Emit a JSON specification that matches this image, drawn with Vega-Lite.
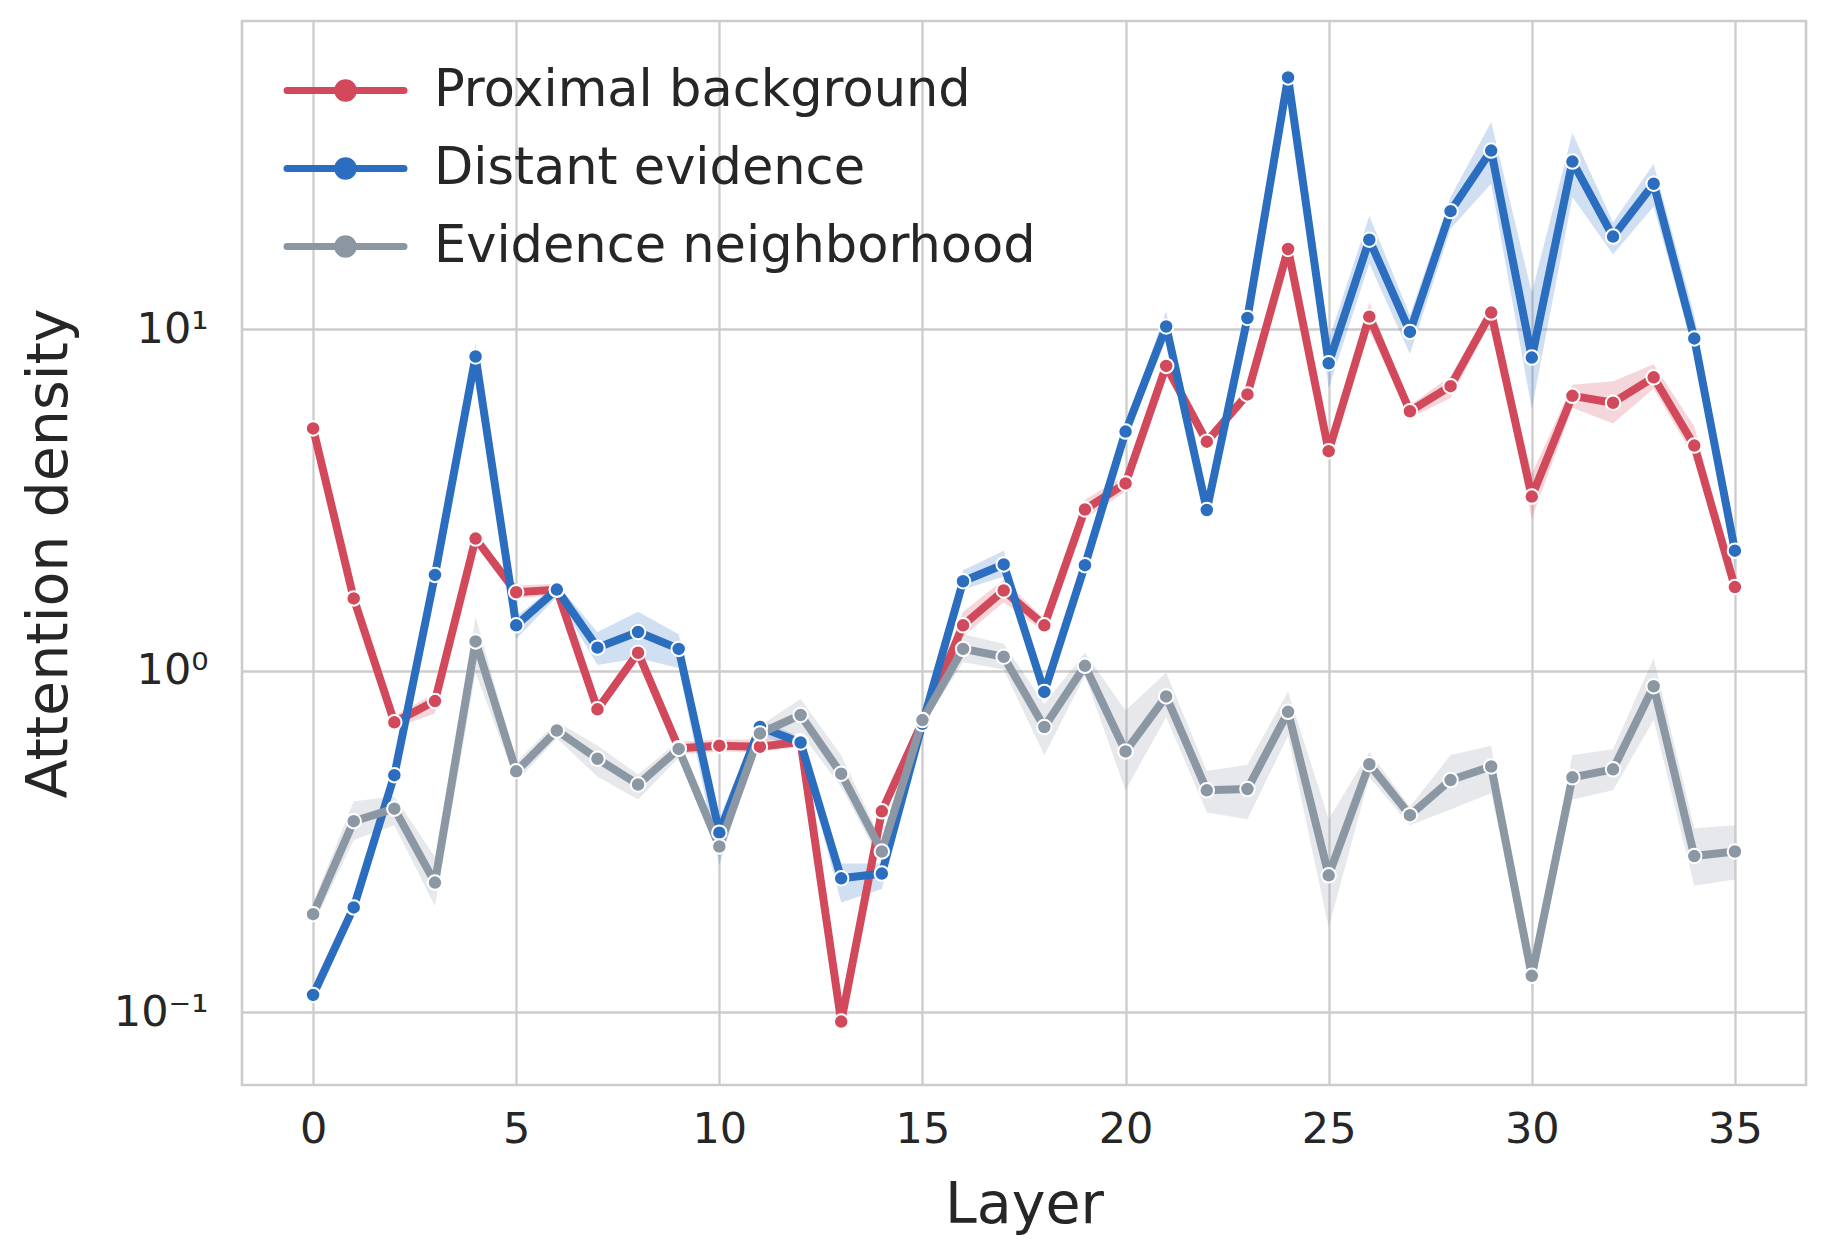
{
  "$schema": "https://vega.github.io/schema/vega-lite/v6.json",
  "width": 1564,
  "height": 1064,
  "autosize": {"type": "none"},
  "padding": {"left": 242, "top": 21, "right": 24, "bottom": 173},
  "background": "white",
  "config": {
    "font": "DejaVu Sans",
    "view": {"stroke": "#cccccc", "strokeWidth": 2.6},
    "axis": {
      "grid": true, "gridColor": "#cccccc", "gridWidth": 2.3, "gridOpacity": 1,
      "domain": false, "ticks": false, "tickSize": 0,
      "labelColor": "#262626", "titleColor": "#262626",
      "labelFont": "DejaVu Sans", "titleFont": "DejaVu Sans", "titleFontWeight": "normal"
    },
    "legend": {"labelFont": "DejaVu Sans"}
  },
  "data": {"values": [
    {"layer":0,"series":"Proximal background","mean":5.13,"lo":5.0,"hi":5.25},
    {"layer":1,"series":"Proximal background","mean":1.63,"lo":1.58,"hi":1.68},
    {"layer":2,"series":"Proximal background","mean":0.707,"lo":0.68,"hi":0.74},
    {"layer":3,"series":"Proximal background","mean":0.816,"lo":0.75,"hi":0.86},
    {"layer":4,"series":"Proximal background","mean":2.44,"lo":2.35,"hi":2.55},
    {"layer":5,"series":"Proximal background","mean":1.70,"lo":1.63,"hi":1.78},
    {"layer":6,"series":"Proximal background","mean":1.73,"lo":1.67,"hi":1.80},
    {"layer":7,"series":"Proximal background","mean":0.772,"lo":0.74,"hi":0.80},
    {"layer":8,"series":"Proximal background","mean":1.13,"lo":1.09,"hi":1.18},
    {"layer":9,"series":"Proximal background","mean":0.594,"lo":0.57,"hi":0.62},
    {"layer":10,"series":"Proximal background","mean":0.604,"lo":0.58,"hi":0.63},
    {"layer":11,"series":"Proximal background","mean":0.60,"lo":0.58,"hi":0.63},
    {"layer":12,"series":"Proximal background","mean":0.62,"lo":0.60,"hi":0.64},
    {"layer":13,"series":"Proximal background","mean":0.094,"lo":0.088,"hi":0.100},
    {"layer":14,"series":"Proximal background","mean":0.388,"lo":0.37,"hi":0.40},
    {"layer":15,"series":"Proximal background","mean":0.71,"lo":0.69,"hi":0.73},
    {"layer":16,"series":"Proximal background","mean":1.36,"lo":1.26,"hi":1.49},
    {"layer":17,"series":"Proximal background","mean":1.72,"lo":1.59,"hi":1.85},
    {"layer":18,"series":"Proximal background","mean":1.36,"lo":1.30,"hi":1.42},
    {"layer":19,"series":"Proximal background","mean":2.97,"lo":2.79,"hi":3.17},
    {"layer":20,"series":"Proximal background","mean":3.54,"lo":3.35,"hi":3.75},
    {"layer":21,"series":"Proximal background","mean":7.82,"lo":7.3,"hi":8.3},
    {"layer":22,"series":"Proximal background","mean":4.69,"lo":4.5,"hi":4.9},
    {"layer":23,"series":"Proximal background","mean":6.45,"lo":6.2,"hi":6.7},
    {"layer":24,"series":"Proximal background","mean":17.2,"lo":16.5,"hi":18.0},
    {"layer":25,"series":"Proximal background","mean":4.40,"lo":4.2,"hi":4.6},
    {"layer":26,"series":"Proximal background","mean":10.9,"lo":9.9,"hi":12.0},
    {"layer":27,"series":"Proximal background","mean":5.76,"lo":5.5,"hi":6.0},
    {"layer":28,"series":"Proximal background","mean":6.82,"lo":6.3,"hi":7.3},
    {"layer":29,"series":"Proximal background","mean":11.2,"lo":10.6,"hi":11.8},
    {"layer":30,"series":"Proximal background","mean":3.24,"lo":2.79,"hi":3.77},
    {"layer":31,"series":"Proximal background","mean":6.39,"lo":5.9,"hi":6.88},
    {"layer":32,"series":"Proximal background","mean":6.10,"lo":5.3,"hi":7.05},
    {"layer":33,"series":"Proximal background","mean":7.24,"lo":6.7,"hi":7.9},
    {"layer":34,"series":"Proximal background","mean":4.57,"lo":4.2,"hi":5.2},
    {"layer":35,"series":"Proximal background","mean":1.76,"lo":1.7,"hi":1.85},
    {"layer":0,"series":"Distant evidence","mean":0.1125,"lo":0.108,"hi":0.117},
    {"layer":1,"series":"Distant evidence","mean":0.203,"lo":0.195,"hi":0.21},
    {"layer":2,"series":"Distant evidence","mean":0.495,"lo":0.48,"hi":0.51},
    {"layer":3,"series":"Distant evidence","mean":1.91,"lo":1.85,"hi":1.97},
    {"layer":4,"series":"Distant evidence","mean":8.33,"lo":7.75,"hi":9.1},
    {"layer":5,"series":"Distant evidence","mean":1.36,"lo":1.24,"hi":1.44},
    {"layer":6,"series":"Distant evidence","mean":1.73,"lo":1.65,"hi":1.80},
    {"layer":7,"series":"Distant evidence","mean":1.17,"lo":1.04,"hi":1.30},
    {"layer":8,"series":"Distant evidence","mean":1.30,"lo":1.09,"hi":1.49},
    {"layer":9,"series":"Distant evidence","mean":1.16,"lo":1.02,"hi":1.28},
    {"layer":10,"series":"Distant evidence","mean":0.336,"lo":0.27,"hi":0.37},
    {"layer":11,"series":"Distant evidence","mean":0.685,"lo":0.65,"hi":0.72},
    {"layer":12,"series":"Distant evidence","mean":0.617,"lo":0.59,"hi":0.64},
    {"layer":13,"series":"Distant evidence","mean":0.247,"lo":0.21,"hi":0.273},
    {"layer":14,"series":"Distant evidence","mean":0.255,"lo":0.23,"hi":0.273},
    {"layer":15,"series":"Distant evidence","mean":0.70,"lo":0.68,"hi":0.72},
    {"layer":16,"series":"Distant evidence","mean":1.83,"lo":1.73,"hi":1.97},
    {"layer":17,"series":"Distant evidence","mean":2.05,"lo":1.89,"hi":2.25},
    {"layer":18,"series":"Distant evidence","mean":0.868,"lo":0.82,"hi":0.92},
    {"layer":19,"series":"Distant evidence","mean":2.04,"lo":1.9,"hi":2.2},
    {"layer":20,"series":"Distant evidence","mean":5.02,"lo":4.8,"hi":5.3},
    {"layer":21,"series":"Distant evidence","mean":10.2,"lo":9.3,"hi":11.3},
    {"layer":22,"series":"Distant evidence","mean":2.96,"lo":2.8,"hi":3.1},
    {"layer":23,"series":"Distant evidence","mean":10.8,"lo":10.3,"hi":11.3},
    {"layer":24,"series":"Distant evidence","mean":54.7,"lo":53.0,"hi":56.5},
    {"layer":25,"series":"Distant evidence","mean":7.96,"lo":6.73,"hi":9.3},
    {"layer":26,"series":"Distant evidence","mean":18.3,"lo":15.6,"hi":21.5},
    {"layer":27,"series":"Distant evidence","mean":9.83,"lo":8.47,"hi":11.0},
    {"layer":28,"series":"Distant evidence","mean":22.2,"lo":19.7,"hi":24.4},
    {"layer":29,"series":"Distant evidence","mean":33.4,"lo":26.7,"hi":40.5},
    {"layer":30,"series":"Distant evidence","mean":8.27,"lo":5.84,"hi":12.8},
    {"layer":31,"series":"Distant evidence","mean":31.0,"lo":24.4,"hi":37.6},
    {"layer":32,"series":"Distant evidence","mean":18.7,"lo":16.6,"hi":20.6},
    {"layer":33,"series":"Distant evidence","mean":26.7,"lo":22.9,"hi":30.5},
    {"layer":34,"series":"Distant evidence","mean":9.41,"lo":8.5,"hi":11.0},
    {"layer":35,"series":"Distant evidence","mean":2.25,"lo":1.98,"hi":2.4},
    {"layer":0,"series":"Evidence neighborhood","mean":0.194,"lo":0.18,"hi":0.209},
    {"layer":1,"series":"Evidence neighborhood","mean":0.363,"lo":0.32,"hi":0.415},
    {"layer":2,"series":"Evidence neighborhood","mean":0.395,"lo":0.353,"hi":0.429},
    {"layer":3,"series":"Evidence neighborhood","mean":0.240,"lo":0.205,"hi":0.285},
    {"layer":4,"series":"Evidence neighborhood","mean":1.22,"lo":0.987,"hi":1.44},
    {"layer":5,"series":"Evidence neighborhood","mean":0.508,"lo":0.473,"hi":0.54},
    {"layer":6,"series":"Evidence neighborhood","mean":0.669,"lo":0.635,"hi":0.71},
    {"layer":7,"series":"Evidence neighborhood","mean":0.553,"lo":0.49,"hi":0.605},
    {"layer":8,"series":"Evidence neighborhood","mean":0.465,"lo":0.42,"hi":0.497},
    {"layer":9,"series":"Evidence neighborhood","mean":0.591,"lo":0.557,"hi":0.625},
    {"layer":10,"series":"Evidence neighborhood","mean":0.306,"lo":0.285,"hi":0.325},
    {"layer":11,"series":"Evidence neighborhood","mean":0.656,"lo":0.62,"hi":0.69},
    {"layer":12,"series":"Evidence neighborhood","mean":0.743,"lo":0.659,"hi":0.827},
    {"layer":13,"series":"Evidence neighborhood","mean":0.500,"lo":0.457,"hi":0.566},
    {"layer":14,"series":"Evidence neighborhood","mean":0.296,"lo":0.273,"hi":0.317},
    {"layer":15,"series":"Evidence neighborhood","mean":0.718,"lo":0.69,"hi":0.75},
    {"layer":16,"series":"Evidence neighborhood","mean":1.16,"lo":1.06,"hi":1.28},
    {"layer":17,"series":"Evidence neighborhood","mean":1.10,"lo":1.01,"hi":1.2},
    {"layer":18,"series":"Evidence neighborhood","mean":0.685,"lo":0.566,"hi":0.80},
    {"layer":19,"series":"Evidence neighborhood","mean":1.035,"lo":0.97,"hi":1.13},
    {"layer":20,"series":"Evidence neighborhood","mean":0.581,"lo":0.447,"hi":0.766},
    {"layer":21,"series":"Evidence neighborhood","mean":0.842,"lo":0.733,"hi":0.99},
    {"layer":22,"series":"Evidence neighborhood","mean":0.447,"lo":0.385,"hi":0.509},
    {"layer":23,"series":"Evidence neighborhood","mean":0.451,"lo":0.368,"hi":0.531},
    {"layer":24,"series":"Evidence neighborhood","mean":0.759,"lo":0.645,"hi":0.87},
    {"layer":25,"series":"Evidence neighborhood","mean":0.252,"lo":0.177,"hi":0.368},
    {"layer":26,"series":"Evidence neighborhood","mean":0.533,"lo":0.488,"hi":0.579},
    {"layer":27,"series":"Evidence neighborhood","mean":0.378,"lo":0.353,"hi":0.40},
    {"layer":28,"series":"Evidence neighborhood","mean":0.479,"lo":0.393,"hi":0.567},
    {"layer":29,"series":"Evidence neighborhood","mean":0.525,"lo":0.438,"hi":0.604},
    {"layer":30,"series":"Evidence neighborhood","mean":0.128,"lo":0.118,"hi":0.137},
    {"layer":31,"series":"Evidence neighborhood","mean":0.488,"lo":0.42,"hi":0.567},
    {"layer":32,"series":"Evidence neighborhood","mean":0.515,"lo":0.447,"hi":0.59},
    {"layer":33,"series":"Evidence neighborhood","mean":0.902,"lo":0.718,"hi":1.09},
    {"layer":34,"series":"Evidence neighborhood","mean":0.287,"lo":0.235,"hi":0.346},
    {"layer":35,"series":"Evidence neighborhood","mean":0.296,"lo":0.245,"hi":0.353}
  ]},
  "encoding": {
    "x": {
      "field": "layer", "type": "quantitative",
      "scale": {"domain": [-1.75, 36.75], "nice": false, "zero": false},
      "axis": {"title": "Layer", "values": [0,5,10,15,20,25,30,35], "format": "d",
               "labelFontSize": 43, "labelPadding": 23, "titleFontSize": 57, "titlePadding": 26}
    }
  },
  "layer": [
    {
      "mark": {"type": "area", "opacity": 0.22},
      "encoding": {
        "y": {"field": "lo", "type": "quantitative", "scale": {"type": "log", "domain": [0.0613, 80], "nice": false}},
        "y2": {"field": "hi"},
        "color": {"field": "series", "type": "nominal",
                  "scale": {"domain": ["Proximal background", "Distant evidence", "Evidence neighborhood"],
                            "range": ["#d1495b", "#2b6dbf", "#8c97a4"]}}
      }
    },
    {
      "mark": {"type": "line", "strokeWidth": 8, "strokeJoin": "round"},
      "encoding": {
        "y": {"field": "mean", "type": "quantitative",
              "scale": {"type": "log", "domain": [0.0613, 80], "nice": false},
              "axis": {"title": "Attention density", "values": [0.1, 1, 10],
                       "labelExpr": "datum.value < 0.5 ? '10⁻¹' : (datum.value < 5 ? '10⁰' : '10¹')",
                       "labelFontSize": 43, "labelPadding": 34, "titleFontSize": 57, "titlePadding": 35}},
        "color": {"field": "series", "type": "nominal",
                  "legend": {
                    "orient": "none", "legendX": 70, "legendY": 36, "title": null, "padding": 0,
                    "symbolType": "M-1.95,0L1.95,0M-0.26,0A0.26,0.26,0,1,0,0.26,0A0.26,0.26,0,1,0,-0.26,0Z",
                    "symbolSize": 3600, "symbolStrokeWidth": 7,
                    "labelFontSize": 51, "labelOffset": 55, "rowPadding": 19, "labelColor": "#262626",
                    "labelLimit": 1000,
                    "encode": {"symbols": {"update": {
                      "fill": {"scale": "color", "field": "value"},
                      "stroke": {"scale": "color", "field": "value"},
                      "strokeCap": {"value": "round"},
                      "opacity": {"value": 1}
                    }}}
                  }}
      }
    },
    {
      "data": {"values": [{"ref": 1}]},
      "mark": {"type": "rule", "color": "#444444", "strokeWidth": 2.2, "strokeDash": [11, 5]},
      "encoding": {"y": {"field": "ref", "type": "quantitative"}}
    },
    {
      "mark": {"type": "point", "filled": true, "size": 210, "stroke": "white", "strokeWidth": 2, "opacity": 1},
      "encoding": {
        "y": {"field": "mean", "type": "quantitative"},
        "color": {"field": "series", "type": "nominal"}
      }
    }
  ]
}
